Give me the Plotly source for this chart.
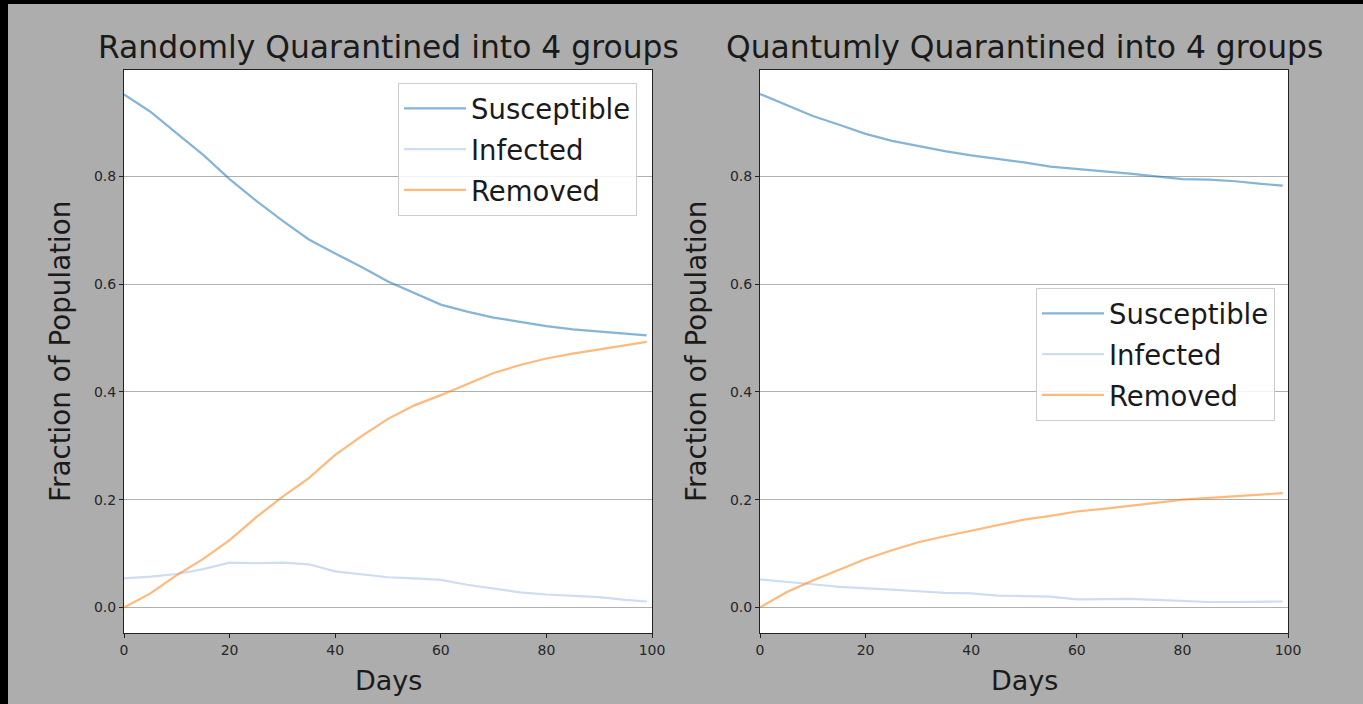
import plotly.graph_objects as go

days = [0, 5, 10, 15, 20, 25, 30, 35, 40, 45, 50, 55, 60, 65, 70, 75, 80, 85, 90, 95, 99]

rand_susceptible = [0.952, 0.920, 0.880, 0.840, 0.795, 0.755, 0.718, 0.683, 0.657, 0.632, 0.605,
                    0.583, 0.562, 0.549, 0.538, 0.530, 0.522, 0.516, 0.512, 0.509, 0.505]
rand_infected = [0.054, 0.057, 0.062, 0.071, 0.083, 0.082, 0.083, 0.080, 0.067, 0.061, 0.056,
                 0.054, 0.051, 0.042, 0.035, 0.028, 0.024, 0.022, 0.019, 0.014, 0.011]
rand_removed = [0.000, 0.026, 0.060, 0.090, 0.125, 0.167, 0.205, 0.240, 0.283, 0.318, 0.350,
                0.375, 0.394, 0.414, 0.435, 0.450, 0.462, 0.471, 0.479, 0.486, 0.493]

quant_susceptible = [0.953, 0.933, 0.912, 0.896, 0.879, 0.866, 0.856, 0.847, 0.839, 0.833, 0.826,
                     0.818, 0.814, 0.810, 0.805, 0.800, 0.795, 0.794, 0.791, 0.786, 0.783]
quant_infected = [0.052, 0.048, 0.043, 0.038, 0.036, 0.033, 0.030, 0.027, 0.026, 0.022, 0.021,
                  0.020, 0.015, 0.015, 0.016, 0.014, 0.012, 0.010, 0.010, 0.011, 0.011]
quant_removed = [0.000, 0.028, 0.050, 0.070, 0.090, 0.106, 0.121, 0.132, 0.142, 0.153, 0.163,
                 0.170, 0.178, 0.183, 0.188, 0.194, 0.200, 0.203, 0.206, 0.209, 0.212]

series_names = ["Susceptible", "Infected", "Removed"]
titles = ["Randomly Quarantined into 4 groups", "Quantumly Quarantined into 4 groups"]
x_ticks = [0, 20, 40, 60, 80, 100]
y_ticks = [0.0, 0.2, 0.4, 0.6, 0.8]

colors = ["rgba(31,119,180,0.55)", "rgba(174,199,232,0.6)", "rgba(255,127,14,0.55)"]

W, H = 1363, 704
FONT = "DejaVu Sans"

def px_x(p):
    return p / W

def px_y(p):
    return 1 - p / H

fig = go.Figure()

panels = [
    ([rand_susceptible, rand_infected, rand_removed], "x", "y", "legend", "a"),
    ([quant_susceptible, quant_infected, quant_removed], "x2", "y2", "legend2", "b"),
]
for vals, xa, ya, lg, gid in panels:
    for name, v, c in zip(series_names, vals, colors):
        fig.add_trace(go.Scatter(
            x=days, y=v, mode="lines", name=name,
            line=dict(color=c, width=2.2),
            xaxis=xa, yaxis=ya, legend=lg, legendgroup=gid + name,
            hoverinfo="x+y+name",
        ))

x_domains = [[px_x(124), px_x(652)], [px_x(760), px_x(1288)]]
y_domain = [px_y(633), px_y(70)]

axis_common = dict(
    showline=True, linecolor="#222222", linewidth=1, mirror=True,
    ticks="outside", ticklen=4, tickcolor="#222222",
    tickfont=dict(family=FONT, size=14, color="#262626"),
    zeroline=False, automargin=False,
)

layout_axes = {}
for i, dom in enumerate(x_domains):
    sfx = "" if i == 0 else str(i + 1)
    layout_axes["xaxis" + sfx] = dict(
        domain=dom, range=[0, 100], tickvals=x_ticks, ticktext=[str(t) for t in x_ticks],
        showgrid=False, anchor="y" + sfx, **axis_common)
    layout_axes["yaxis" + sfx] = dict(
        domain=y_domain, range=[-0.0475, 0.9975], tickvals=y_ticks,
        ticktext=["%.1f" % t for t in y_ticks],
        showgrid=True, gridcolor="#b0b0b0", gridwidth=1, anchor="x" + sfx, **axis_common)

fig.update_layout(**layout_axes)

legend_common = dict(
    bgcolor="rgba(255,255,255,0.85)", bordercolor="#cccccc", borderwidth=1,
    font=dict(family=FONT, size=27.5, color="#1a1a1a"),
    xanchor="right", yanchor="top", itemwidth=62,
    traceorder="grouped", tracegroupgap=2,
)
fig.update_layout(
    legend=dict(x=px_x(637), y=px_y(83), **legend_common),
    legend2=dict(x=px_x(1275), y=px_y(288), **legend_common),
)

annotations = []
centers = [388, 1024]
for title, cx in zip(titles, centers):
    annotations.append(dict(
        text=title, x=px_x(cx), y=px_y(47), xref="paper", yref="paper",
        xanchor="center", yanchor="middle", showarrow=False,
        font=dict(family=FONT, size=31.4, color="#1a1a1a")))
    annotations.append(dict(
        text="Days", x=px_x(cx), y=px_y(680), xref="paper", yref="paper",
        xanchor="center", yanchor="middle", showarrow=False,
        font=dict(family=FONT, size=27, color="#1a1a1a")))
for lx in [60, 696]:
    annotations.append(dict(
        text="Fraction of Population", x=px_x(lx), y=px_y(352), xref="paper", yref="paper",
        xanchor="center", yanchor="middle", showarrow=False, textangle=-90,
        font=dict(family=FONT, size=27.8, color="#1a1a1a")))

shapes = [
    dict(type="rect", xref="paper", yref="paper", x0=0, x1=px_x(8), y0=0, y1=1,
         fillcolor="black", line=dict(width=0), layer="above"),
    dict(type="rect", xref="paper", yref="paper", x0=0, x1=1, y0=px_y(4), y1=1,
         fillcolor="black", line=dict(width=0), layer="above"),
]

fig.update_layout(
    width=W, height=H,
    margin=dict(l=0, r=0, t=0, b=0),
    paper_bgcolor="#adadad", plot_bgcolor="white",
    annotations=annotations, shapes=shapes,
    showlegend=True,
    font=dict(family=FONT),
)

fig.write_html(
    "out.html",
    config={"displayModeBar": False},
    post_script="document.body.style.margin='0';document.body.style.overflow='hidden';",
)
